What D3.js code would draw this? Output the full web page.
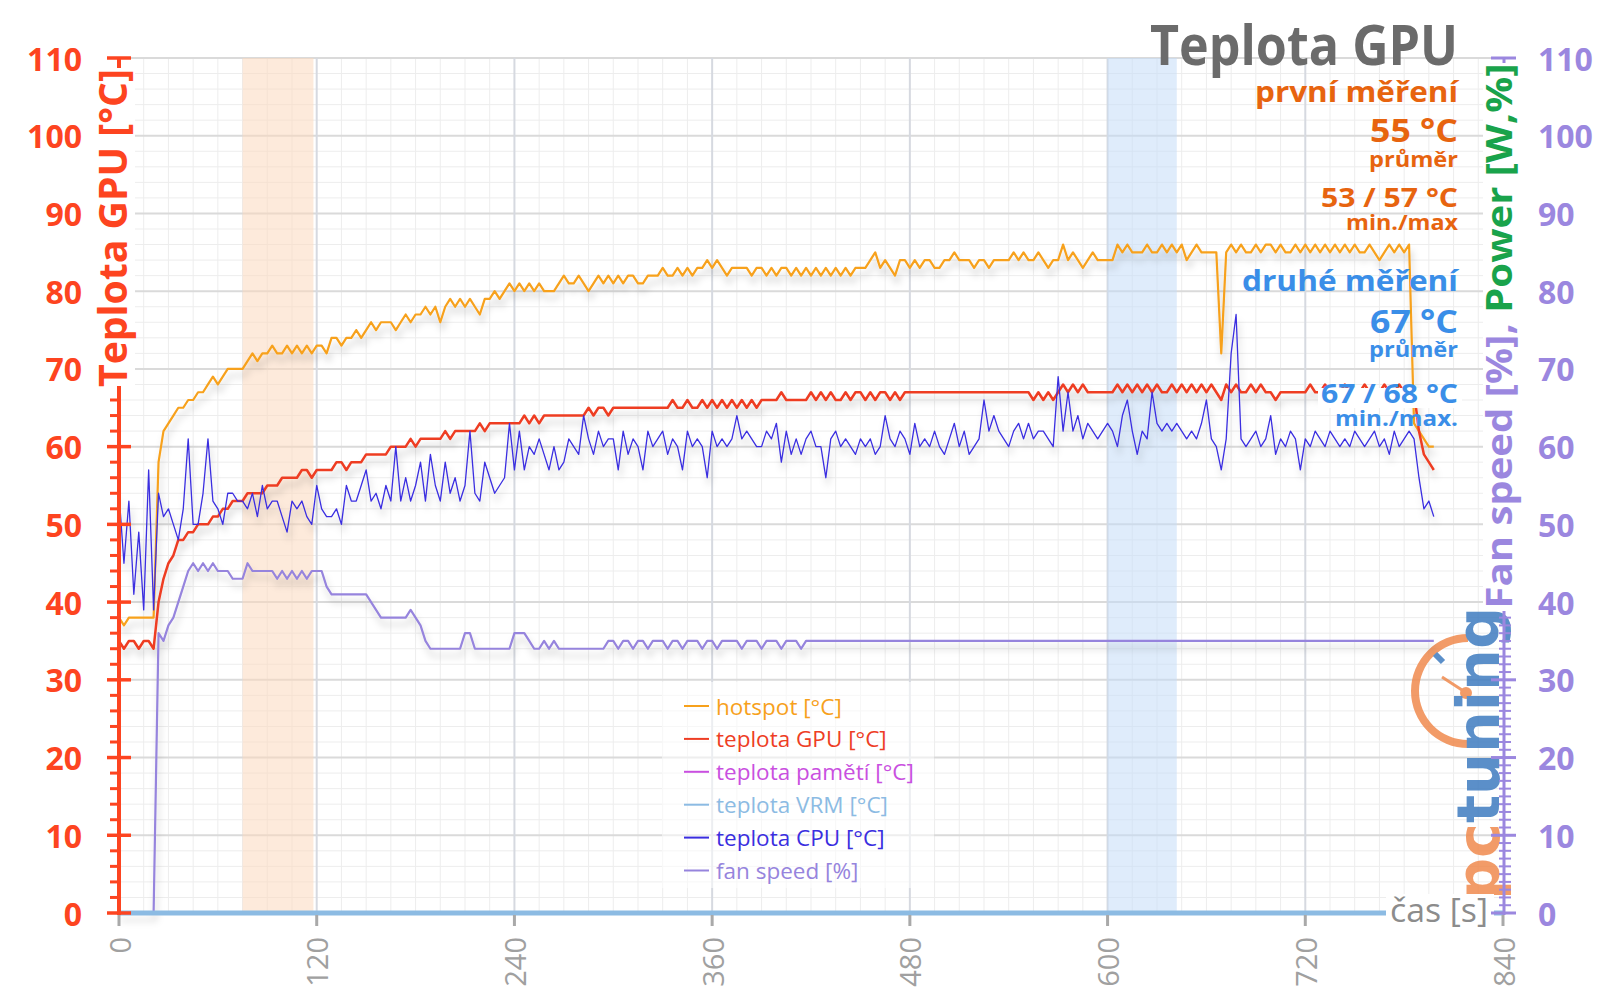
<!DOCTYPE html>
<html>
<head>
<meta charset="utf-8">
<script src="https://cdn.jsdelivr.net/npm/d3@7/dist/d3.min.js"></script>
<style>
  html, body { margin: 0; padding: 0; background: #fff; }
  svg { display: block; font-family: "Open Sans", "DejaVu Sans", sans-serif; }
</style>
</head>
<body>
<div id="chart"></div>
<script>
// sample clock: one reading every 3 s
const seconds = d3.range(0, 799, 3);

// values, 10 samples (30 s) per row
const hotspot = [
  38,37,38,38,38,38,38,38,58,62, 63,64,65,65,66,66,67,67,68,69,
  68,69,70,70,70,70,71,72,71,72, 72,73,72,72,73,72,73,72,73,72,
  73,73,72,74,74,73,74,74,75,74, 75,76,75,76,76,76,75,76,77,76,
  77,77,78,77,78,76,78,79,78,79, 78,79,78,77,79,79,80,79,80,81,
  80,81,80,81,80,81,80,80,80,81, 82,81,81,82,81,80,81,82,81,82,
  81,82,81,82,82,81,81,82,82,82, 83,82,82,83,82,83,82,83,83,84,
  83,84,83,82,83,83,83,83,82,83, 83,82,83,82,83,83,82,83,82,83,
  82,83,82,83,82,83,82,83,82,83, 83,83,84,85,83,84,83,82,84,84,
  83,84,83,84,84,83,83,84,84,85, 84,84,84,83,84,84,83,84,84,84,
  84,85,84,85,84,84,85,84,83,84, 84,86,84,85,84,83,84,85,84,84,
  84,84,86,85,86,85,85,85,86,85, 85,86,85,86,85,86,84,85,86,85,
  85,85,85,72,85,86,85,86,85,85, 86,85,86,86,85,86,85,85,86,85,
  86,85,86,85,86,85,86,85,86,85, 86,85,85,86,85,84,85,86,85,86,
  85,86,63,62,61,60,60
];

const gpuTemp = [
  35,34,35,35,34,35,35,34,40,43, 45,46,48,48,49,49,50,50,50,51,
  51,52,52,53,53,53,54,54,54,54, 55,55,55,56,56,56,56,57,57,56,
  57,57,57,57,58,58,57,58,58,58, 59,59,59,59,59,60,60,60,60,61,
  60,61,61,61,61,61,62,61,62,62, 62,62,62,63,62,63,63,63,63,63,
  63,63,64,63,64,63,64,64,64,64, 64,64,64,64,64,65,64,65,65,64,
  65,65,65,65,65,65,65,65,65,65, 65,65,66,65,65,66,65,65,66,65,
  66,65,66,65,66,65,66,65,66,65, 66,66,66,66,67,66,66,66,66,66,
  67,66,67,66,67,66,66,67,66,67, 67,66,67,66,67,67,66,67,66,67,
  67,67,67,67,67,67,67,67,67,67, 67,67,67,67,67,67,67,67,67,67,
  67,67,67,67,67,66,67,66,67,66, 67,68,67,68,67,68,67,67,67,67,
  67,67,68,67,68,67,68,67,68,67, 68,67,67,68,67,68,67,68,67,68,
  67,68,67,66,68,67,68,67,67,68, 67,68,67,67,66,67,67,67,67,67,
  67,68,67,67,68,67,67,67,68,67, 67,67,68,67,67,67,68,67,67,68,
  67,67,67,62,59,58,57
];

const cpuTemp = [
  54,45,53,41,49,39,57,39,54,51, 52,50,48,52,61,50,50,54,61,53,
  52,50,54,54,53,53,52,54,51,55, 52,53,53,51,49,53,52,53,51,50,
  55,52,51,51,52,50,55,53,53,55, 57,53,54,52,55,53,60,53,56,53,
  55,58,53,59,55,53,58,54,56,53, 55,62,54,53,58,56,54,55,56,63,
  57,62,57,60,59,61,59,57,60,57, 58,61,60,59,64,61,59,62,60,61,
  61,57,62,59,61,60,57,62,60,61, 62,59,61,60,57,62,60,61,60,56,
  62,60,61,60,61,64,61,62,61,60, 60,62,61,63,58,62,59,61,59,61,
  62,60,60,56,61,62,60,61,60,59, 61,60,61,59,60,64,61,60,62,61,
  59,63,60,61,60,62,60,59,61,63, 60,62,59,60,61,66,62,64,62,61,
  60,62,63,61,63,61,62,62,61,60, 69,62,67,62,64,61,63,62,61,62,
  63,62,60,64,66,62,59,62,61,67, 63,62,63,62,63,62,61,62,61,63,
  66,61,60,57,61,72,77,61,60,61, 62,60,61,64,59,61,60,62,61,57,
  61,60,62,61,60,62,61,60,61,60, 62,61,60,61,62,60,61,59,62,60,
  61,62,61,56,52,53,51
];

const fanSpeed = [
  0,0,0,0,0,0,0,0,36,35, 37,38,40,42,44,45,44,45,44,45,
  44,44,44,43,43,43,45,44,44,44, 44,44,43,44,43,44,43,44,43,44,
  44,44,42,41,41,41,41,41,41,41, 41,40,39,38,38,38,38,38,38,39,
  38,37,35,34,34,34,34,34,34,34, 36,36,34,34,34,34,34,34,34,34,
  36,36,36,35,34,34,35,34,35,34, 34,34,34,34,34,34,34,34,34,35,
  35,34,35,35,34,35,35,34,35,35, 35,34,35,35,34,35,35,35,34,35,
  35,34,35,35,35,35,34,35,35,35, 34,35,35,35,34,35,35,35,34,35,
  35,35,35,35,35,35,35,35,35,35, 35,35,35,35,35,35,35,35,35,35,
  35,35,35,35,35,35,35,35,35,35, 35,35,35,35,35,35,35,35,35,35,
  35,35,35,35,35,35,35,35,35,35, 35,35,35,35,35,35,35,35,35,35,
  35,35,35,35,35,35,35,35,35,35, 35,35,35,35,35,35,35,35,35,35,
  35,35,35,35,35,35,35,35,35,35, 35,35,35,35,35,35,35,35,35,35,
  35,35,35,35,35,35,35,35,35,35, 35,35,35,35,35,35,35,35,35,35,
  35,35,35,35,35,35,35
];

const legendLabels = ["hotspot [°C]", "teplota GPU [°C]", "teplota pamětí [°C]",
                      "teplota VRM [°C]", "teplota CPU [°C]", "fan speed [%]"];
const xTickValues = [0, 120, 240, 360, 480, 600, 720, 840];
const yTickValues = [0, 10, 20, 30, 40, 50, 60, 70, 80, 90, 100, 110];
const bandRanges = [[75, 118], [600, 642]];   // first / second measurement window, s
const firstRun = ["první měření", "55 °C", "průměr", "53 / 57 °C", "min./max"];
const secondRun = ["druhé měření", "67 °C", "průměr", "67 / 68 °C", "min./max."];

// ---- layout / style ----
const W = 1600, H = 1008;
const colors = {
  hotspot: "#f7a11c", gpu: "#ee3d24", mem: "#c94fe0", vrm: "#8cbbe3",
  cpu: "#3a2ee0", fan: "#9684dd", left: "#fd4420", right: "#9b87df",
  power: "#19a34b", orangeTxt: "#e7640f", blueTxt: "#3a8ee8", grey: "#6b6b6b"
};

const x = d3.scaleLinear().domain([0, 840]).range([119, 1503]);
const y = d3.scaleLinear().domain([0, 110]).range([913, 58]);

const svg = d3.select("#chart").append("svg")
  .attr("width", W).attr("height", H);

const defs = svg.append("defs");
defs.append("filter")
    .attr("id", "shadow")
    .attr("filterUnits", "userSpaceOnUse")
    .attr("x", 0).attr("y", 0).attr("width", W).attr("height", H)
  .append("feDropShadow")
    .attr("dx", 2).attr("dy", 7).attr("stdDeviation", 3.5)
    .attr("flood-color", "#000").attr("flood-opacity", 0.2);

// grid
const grid = svg.append("g");
grid.selectAll(".hmin")
  .data(d3.range(0, 111, 2).filter(v => v % 10 !== 0))
  .join("line")
    .attr("x1", x(0)).attr("x2", x(840))
    .attr("y1", d => y(d)).attr("y2", d => y(d))
    .attr("stroke", "#ededed").attr("stroke-width", 1);
grid.selectAll(".vmin")
  .data(d3.range(15, 840, 15).filter(v => v % 120 !== 0))
  .join("line")
    .attr("x1", d => x(d)).attr("x2", d => x(d))
    .attr("y1", y(110)).attr("y2", y(0))
    .attr("stroke", "#ededed").attr("stroke-width", 1);
grid.selectAll(".hmaj")
  .data(yTickValues.filter(v => v > 0))
  .join("line")
    .attr("x1", x(0)).attr("x2", x(840))
    .attr("y1", d => y(d)).attr("y2", d => y(d))
    .attr("stroke", "#dadada").attr("stroke-width", 2);
grid.selectAll(".vmaj")
  .data(xTickValues.filter(v => v > 0 && v < 840))
  .join("line")
    .attr("x1", d => x(d)).attr("x2", d => x(d))
    .attr("y1", y(110)).attr("y2", y(0))
    .attr("stroke", "#d6d9e0").attr("stroke-width", 2);

// measurement windows
const bandFill = ["#fbd9bd", "#c4ddf7"];
svg.append("g").selectAll("rect")
  .data(bandRanges)
  .join("rect")
    .attr("x", d => x(d[0]))
    .attr("width", d => x(d[1]) - x(d[0]))
    .attr("y", y(110)).attr("height", y(0) - y(110))
    .attr("fill", (d, i) => bandFill[i]).attr("opacity", 0.55);

// legend backdrop
svg.append("rect")
  .attr("x", 662).attr("y", 682).attr("width", 272).attr("height", 206)
  .attr("fill", "#fff").attr("opacity", 0.55);

// pctuning watermark
const logo = svg.append("g").attr("opacity", 0.85);
const arc = d3.arc()
  .innerRadius(49).outerRadius(57)
  .startAngle(Math.PI).endAngle(2 * Math.PI);
logo.append("path").attr("d", arc())
  .attr("transform", "translate(1468,691)").attr("fill", "#f08a4e");
logo.append("line")
  .attr("x1", 1435).attr("y1", 654).attr("x2", 1443).attr("y2", 662)
  .attr("stroke", "#3f7cc0").attr("stroke-width", 6);
logo.append("line")
  .attr("x1", 1442).attr("y1", 677).attr("x2", 1465).attr("y2", 692)
  .attr("stroke", "#f08a4e").attr("stroke-width", 3);
logo.append("circle").attr("cx", 1466).attr("cy", 693).attr("r", 6).attr("fill", "#f08a4e");
const logoText = logo.append("text")
  .attr("transform", "translate(1499,900) rotate(-90)")
  .attr("font-family", "DejaVu Sans, sans-serif")
  .attr("font-weight", "bold").attr("font-size", 58)
  .attr("textLength", 293).attr("lengthAdjust", "spacingAndGlyphs");
logoText.append("tspan").attr("fill", "#f08a4e").text("pc");
logoText.append("tspan").attr("fill", "#3f7cc0").text("tuning");

// series
const line = d3.line()
  .x((d, i) => x(seconds[i]))
  .y(d => y(d));

const series = [
  { values: hotspot, color: colors.hotspot, width: 2.2 },
  { values: gpuTemp, color: colors.gpu, width: 2.5 },
  { values: cpuTemp, color: colors.cpu, width: 1.3 },
  { values: fanSpeed, color: colors.fan, width: 2.2 }
];

svg.append("g")
    .attr("filter", "url(#shadow)")
  .selectAll("path")
  .data(series)
  .join("path")
    .attr("d", d => line(d.values))
    .attr("fill", "none")
    .attr("stroke", d => d.color)
    .attr("stroke-width", d => d.width)
    .attr("stroke-linejoin", "round");

// x axis (light blue base line, grey ticks, rotated labels)
const xAxis = svg.append("g");
xAxis.append("line")
  .attr("x1", x(0)).attr("x2", x(840)).attr("y1", y(0)).attr("y2", y(0))
  .attr("stroke", colors.vrm).attr("stroke-width", 5);
xAxis.selectAll(".tick")
  .data(xTickValues)
  .join("line")
    .attr("x1", d => x(d)).attr("x2", d => x(d))
    .attr("y1", y(0) + 2).attr("y2", y(0) + 13)
    .attr("stroke", "#a9a9a9").attr("stroke-width", 3);
xAxis.selectAll("text")
  .data(xTickValues)
  .join("text")
    .attr("transform", d => `translate(${x(d)},937) rotate(-90)`)
    .attr("text-anchor", "end")
    .attr("dominant-baseline", "central")
    .attr("font-size", 29)
    .attr("fill", "#a0a0a0")
    .text(d => d);

svg.append("rect")
  .attr("x", 1386).attr("y", 894).attr("width", 108).attr("height", 40)
  .attr("fill", "#fff");
svg.append("text")
  .attr("x", 1390).attr("y", 922)
  .attr("font-size", 32).attr("fill", "#8c8c8c")
  .attr("textLength", 98).attr("lengthAdjust", "spacingAndGlyphs")
  .text("čas [s]");

// left axis
const leftAxis = svg.append("g");
leftAxis.append("line")
  .attr("x1", 119).attr("x2", 119).attr("y1", y(110) - 1).attr("y2", y(0) + 2)
  .attr("stroke", colors.left).attr("stroke-width", 4);
leftAxis.selectAll(".minor")
  .data(d3.range(0, 111, 2).filter(v => v % 10 !== 0))
  .join("line")
    .attr("x1", 110).attr("x2", 121)
    .attr("y1", d => y(d)).attr("y2", d => y(d))
    .attr("stroke", colors.left).attr("stroke-width", 3);
leftAxis.selectAll(".major")
  .data(yTickValues)
  .join("line")
    .attr("x1", 107).attr("x2", 131)
    .attr("y1", d => y(d)).attr("y2", d => y(d))
    .attr("stroke", colors.left).attr("stroke-width", 3.5);
leftAxis.selectAll("text")
  .data(yTickValues)
  .join("text")
    .attr("x", 82).attr("y", d => y(d))
    .attr("text-anchor", "end").attr("dominant-baseline", "central")
    .attr("font-size", 32).attr("font-weight", "bold")
    .attr("fill", colors.left)
    .text(d => d);

// right axis
const rightAxis = svg.append("g");
rightAxis.append("line")
  .attr("x1", 1504).attr("x2", 1504).attr("y1", y(110) - 1).attr("y2", y(0) + 2)
  .attr("stroke", colors.right).attr("stroke-width", 3);
rightAxis.selectAll(".minor")
  .data(d3.range(0, 111, 1).filter(v => v % 10 !== 0))
  .join("line")
    .attr("x1", 1499).attr("x2", 1511)
    .attr("y1", d => y(d)).attr("y2", d => y(d))
    .attr("stroke", colors.right).attr("stroke-width", 2);
rightAxis.selectAll(".major")
  .data(yTickValues)
  .join("line")
    .attr("x1", 1491).attr("x2", 1516)
    .attr("y1", d => y(d)).attr("y2", d => y(d))
    .attr("stroke", colors.right).attr("stroke-width", 3);
rightAxis.selectAll("text")
  .data(yTickValues)
  .join("text")
    .attr("x", 1538).attr("y", d => y(d))
    .attr("dominant-baseline", "central")
    .attr("font-size", 32).attr("font-weight", "bold")
    .attr("fill", colors.right)
    .text(d => d);

// axis titles (white boxes hide the axis line behind them)
svg.append("rect").attr("x", 95).attr("y", 68).attr("width", 40).attr("height", 318).attr("fill", "#fff");
svg.append("text")
  .attr("transform", "translate(127,228) rotate(-90)")
  .attr("text-anchor", "middle")
  .attr("font-size", 40).attr("font-weight", "bold")
  .attr("fill", colors.left)
  .attr("textLength", 318).attr("lengthAdjust", "spacingAndGlyphs")
  .text("Teplota GPU [°C]");

svg.append("rect").attr("x", 1483).attr("y", 63).attr("width", 40).attr("height", 548).attr("fill", "#fff");
const rTitle = svg.append("text")
  .attr("transform", "translate(1512,336) rotate(-90)")
  .attr("text-anchor", "middle")
  .attr("font-size", 35).attr("font-weight", "bold")
  .attr("textLength", 545).attr("lengthAdjust", "spacingAndGlyphs");
rTitle.append("tspan").attr("fill", colors.right).text("Fan speed [%], ");
rTitle.append("tspan").attr("fill", colors.power).text("Power [W,%]");

// title
svg.append("text")
  .attr("x", 1458).attr("y", 65)
  .attr("text-anchor", "end")
  .attr("font-size", 55).attr("font-weight", "bold")
  .attr("fill", colors.grey)
  .attr("textLength", 308).attr("lengthAdjust", "spacingAndGlyphs")
  .text("Teplota GPU");

// measurement summaries
const statLayout = [
  { y: 102, size: 29, w: 203 },
  { y: 142, size: 32, w: 88 },
  { y: 167, size: 21, w: 89 },
  { y: 207, size: 27, w: 137 },
  { y: 230, size: 21, w: 112 }
];
const secondLayout = [
  { y: 291, size: 29, w: 216 },
  { y: 333, size: 32, w: 88 },
  { y: 357, size: 21, w: 89 },
  { y: 403, size: 27, w: 137 },
  { y: 426, size: 21, w: 123 }
];

svg.append("rect").attr("x", 1318).attr("y", 388).attr("width", 144).attr("height", 20).attr("fill", "#fff");

function drawStats(labels, layout, color) {
  svg.append("g").selectAll("text")
    .data(labels)
    .join("text")
      .attr("x", 1458)
      .attr("y", (d, i) => layout[i].y)
      .attr("text-anchor", "end")
      .attr("font-weight", "bold")
      .attr("font-size", (d, i) => layout[i].size)
      .attr("textLength", (d, i) => layout[i].w)
      .attr("lengthAdjust", "spacingAndGlyphs")
      .attr("fill", color)
      .text(d => d);
}
drawStats(firstRun, statLayout, colors.orangeTxt);
drawStats(secondRun, secondLayout, colors.blueTxt);

// legend
const legendColors = [colors.hotspot, colors.gpu, colors.mem, colors.vrm, colors.cpu, colors.fan];
const legend = svg.append("g").selectAll("g")
  .data(legendLabels)
  .join("g")
    .attr("transform", (d, i) => `translate(684,${706 + i * 32.9})`);
legend.append("line")
  .attr("x1", 0).attr("x2", 25)
  .attr("stroke", (d, i) => legendColors[i]).attr("stroke-width", 2);
legend.append("text")
  .attr("x", 32)
  .attr("dominant-baseline", "central")
  .attr("font-size", 22.5)
  .attr("fill", (d, i) => legendColors[i])
  .text(d => d);
</script>
</body>
</html>
